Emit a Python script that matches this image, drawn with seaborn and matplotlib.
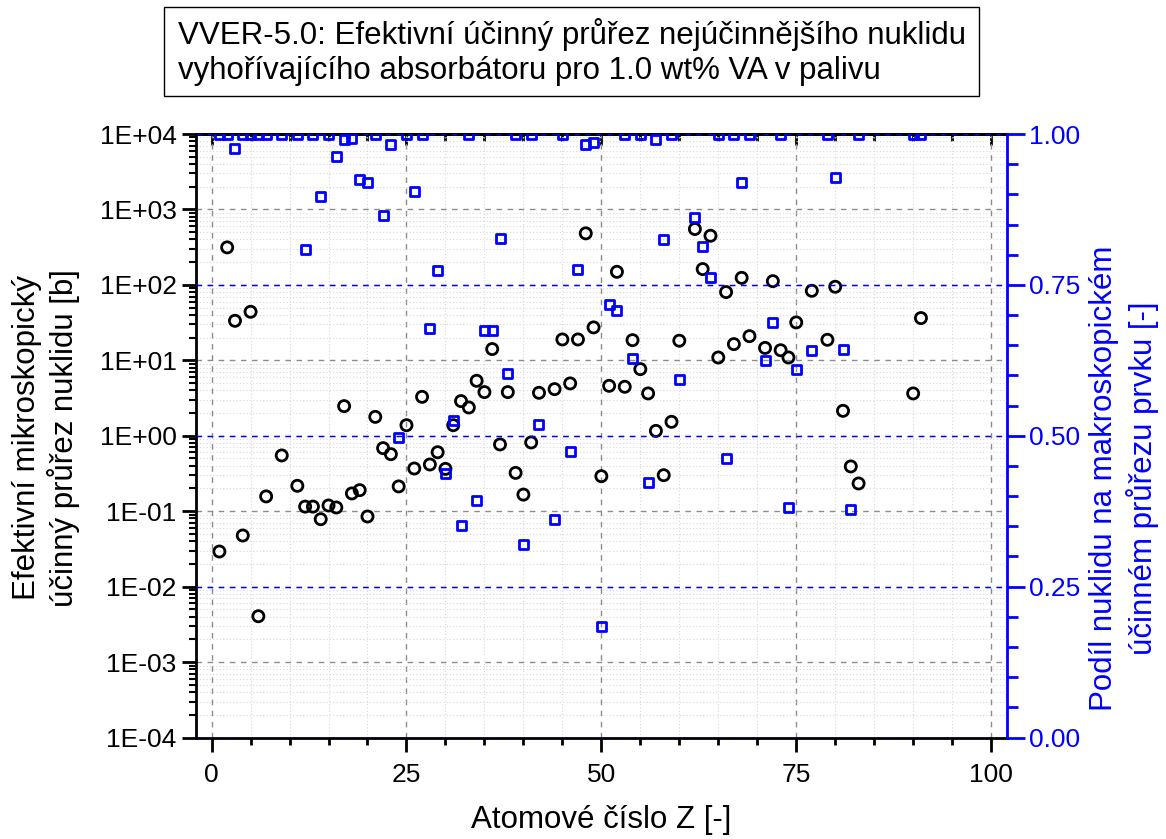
import matplotlib
matplotlib.use("Agg")
import matplotlib.pyplot as plt
from matplotlib.patches import Rectangle
from matplotlib.ticker import (LogLocator, MultipleLocator, FuncFormatter,
                               NullFormatter, FormatStrFormatter)
import pandas as pd
import seaborn as sns

# Atomic numbers of the burnable-absorber candidates
Z = [1, 2, 3, 4, 5, 6, 7, 9, 11, 12, 13, 14, 15, 16, 17, 18, 19, 20, 21, 22,
     23, 24, 25, 26, 27, 28, 29, 30, 31, 32, 33, 34, 35, 36, 37, 38, 39, 40, 41, 42,
     44, 45, 46, 47, 48, 49, 50, 51, 52, 53, 54, 55, 56, 57, 58, 59, 60, 62, 63, 64,
     65, 66, 67, 68, 69, 71, 72, 73, 74, 75, 77, 79, 80, 81, 82, 83, 90, 91]

# Effective microscopic cross section of the most effective nuclide [b]
sigma = [0.0292, 314, 33.4, 0.0476, 44, 0.00405, 0.157, 0.548, 0.217, 0.115,
         0.115, 0.0783, 0.119, 0.112, 2.47, 0.172, 0.190, 0.0851, 1.78, 0.685,
         0.570, 0.213, 1.38, 0.368, 3.28, 0.416, 0.605, 0.364, 1.38, 2.88,
         2.37, 5.35, 3.79, 14.1, 0.767, 3.79, 0.322, 0.166, 0.815, 3.71,
         4.15, 18.9, 4.94, 18.9, 482, 27.3, 0.291, 4.59, 149, 4.46,
         18.5, 7.64, 3.64, 1.16, 0.300, 1.53, 18.2, 550, 162, 448,
         10.9, 80.3, 16.4, 124, 20.9, 14.6, 112, 13.6, 10.9, 31.8,
         83.5, 18.7, 94.4, 2.14, 0.392, 0.233, 3.64, 36.3]

# Share of that nuclide in the element's macroscopic cross section [-]
frac = [1.0, 1.0, 0.976, 1.0, 1.0, 1.0, 1.0, 1.0, 1.0, 0.809,
        1.0, 0.896, 1.0, 0.962, 0.991, 0.992, 0.925, 0.919, 1.0, 0.865,
        0.983, 0.497, 1.0, 0.904, 1.0, 0.677, 0.774, 0.437, 0.526, 0.352,
        1.0, 0.393, 0.674, 0.674, 0.827, 0.603, 1.0, 0.320, 1.0, 0.518,
        0.361, 1.0, 0.474, 0.775, 0.983, 0.986, 0.184, 0.718, 0.707, 1.0,
        0.628, 1.0, 0.423, 0.991, 0.826, 1.0, 0.593, 0.861, 0.814, 0.762,
        1.0, 0.463, 1.0, 0.920, 1.0, 0.624, 0.688, 1.0, 0.381, 0.610,
        0.642, 1.0, 0.928, 0.643, 0.378, 1.0, 1.0, 1.0]

left_ticks = [1e-4, 1e-3, 1e-2, 1e-1, 1e0, 1e1, 1e2, 1e3, 1e4]
right_ticks = [0.0, 0.25, 0.5, 0.75, 1.0]
x_ticks = [0, 25, 50, 75, 100]

title_lines = ["VVER-5.0: Efektivní účinný průřez nejúčinnějšího nuklidu",
               "vyhořívajícího absorbátoru pro 1.0 wt% VA v palivu"]
xlabel = "Atomové číslo Z [-]"
ylabel_left = "Efektivní mikroskopický\núčinný průřez nuklidu [b]"
ylabel_right = "Podíl nuklidu na makroskopickém\núčinném průřezu prvku [-]"

BLUE = "#0000FF"

sns.set_style("ticks")
plt.rcParams["font.family"] = ["Liberation Sans", "DejaVu Sans"]
plt.rcParams.update({"text.color": "black", "axes.labelcolor": "black",
                     "xtick.color": "black", "ytick.color": "black"})

df = pd.DataFrame({"Z": Z, "sigma": sigma, "frac": frac})

W, H = 1166, 839
fig = plt.figure(figsize=(W / 100, H / 100), dpi=100)
x0, x1, y0, y1 = 196, 1006.7, 134, 737.5
ax = fig.add_axes([x0 / W, 1 - y1 / H, (x1 - x0) / W, (y1 - y0) / H])
ax2 = ax.twinx()

# ---- left (log) axis -------------------------------------------------
ax.set_yscale("log")
ax.set_ylim(1e-4, 1e4)
ax.set_xlim(-2, 102)
ax.set_yticks(left_ticks)
ax.yaxis.set_major_formatter(FuncFormatter(lambda v, p: f"{v:.0E}"))
ax.yaxis.set_minor_locator(LogLocator(base=10, subs=range(2, 10), numticks=100))
ax.yaxis.set_minor_formatter(NullFormatter())
ax.set_xticks(x_ticks)
ax.xaxis.set_minor_locator(MultipleLocator(5))

ax.grid(which="major", axis="both", color="#8c8c8c", linestyle=(0, (4, 4)), linewidth=1.0)
ax.grid(which="minor", axis="both", color="#d8d8d8", linestyle=(0, (1, 2)), linewidth=0.8)
ax.set_axisbelow(True)

ax.tick_params(axis="x", which="major", direction="out", length=10, width=2,
               labelsize=19, pad=8, colors="black", top=False)
ax.tick_params(axis="x", which="minor", direction="out", length=5, width=2,
               colors="black", top=False)
ax.tick_params(axis="y", which="major", direction="out", length=10, width=2,
               labelsize=19, pad=4, colors="black", right=False)
ax.tick_params(axis="y", which="minor", direction="out", length=5, width=1.5,
               colors="black", right=False)

for side in ("left", "bottom", "top"):
    ax.spines[side].set_linewidth(2)
    ax.spines[side].set_color("black")
ax.spines["right"].set_visible(False)

# inward ticks along the top edge
top = ax.secondary_xaxis("top")
top.set_xticks(x_ticks)
top.xaxis.set_minor_locator(MultipleLocator(5))
top.tick_params(which="major", direction="in", length=8, width=2, labeltop=False,
                colors="black")
top.tick_params(which="minor", direction="in", length=5, width=2, colors="black")
top.spines["top"].set_linewidth(2)
top.spines["top"].set_color("black")

# ---- right (linear) axis ---------------------------------------------
ax2.set_ylim(0, 1)
ax2.set_yticks(right_ticks)
ax2.yaxis.set_major_formatter(FormatStrFormatter("%.2f"))
ax2.yaxis.set_minor_locator(MultipleLocator(0.05))
ax2.grid(which="major", axis="y", color=BLUE, linestyle=(0, (4, 4)), linewidth=1.0)
ax2.tick_params(axis="y", which="major", direction="out", length=13, width=2,
                labelsize=19, pad=3, colors=BLUE, left=False)
ax2.tick_params(axis="y", which="minor", direction="out", length=8, width=2,
                colors=BLUE, left=False)
for side in ("left", "bottom", "top"):
    ax2.spines[side].set_visible(False)
ax2.spines["right"].set_color(BLUE)
ax2.spines["right"].set_linewidth(2)

# ---- data --------------------------------------------------------------
sns.scatterplot(data=df, x="Z", y="sigma", ax=ax, marker="o", s=64,
                facecolor="none", edgecolor="black", linewidth=2.0,
                legend=False, zorder=4)
ax.collections[-1].set_facecolor("none")
ax.collections[-1].set_edgecolor("black")

sns.scatterplot(data=df, x="Z", y="frac", ax=ax2, marker="s", s=42,
                facecolor="none", edgecolor=BLUE, linewidth=2.0,
                legend=False, zorder=4)
ax2.collections[-1].set_facecolor("none")
ax2.collections[-1].set_edgecolor(BLUE)

ax.set_xlabel("")
ax.set_ylabel("")
ax2.set_ylabel("")

# ---- labels -----------------------------------------------------------
fig.text(601 / W, 1 - 828 / H, xlabel, fontsize=22.5, ha="center", va="baseline",
         color="black")
fig.text(46 / W, 1 - 438 / H, ylabel_left, fontsize=22.5, rotation=90,
         ha="center", va="center", multialignment="center", linespacing=1.2,
         color="black")
fig.text(1124 / W, 1 - 478 / H, ylabel_right, fontsize=22.5, rotation=90,
         ha="center", va="center", multialignment="center", color=BLUE,
         linespacing=1.3)

# ---- title box --------------------------------------------------------
fig.patches.append(Rectangle((163.5 / W, 1 - 96 / H), (979.2 - 163.5) / W, (96 - 7) / H,
                             transform=fig.transFigure, facecolor="white",
                             edgecolor="black", linewidth=1.0))
fig.text(178.3 / W, 1 - 44 / H, title_lines[0], fontsize=22.5, ha="left",
         va="baseline", color="black")
fig.text(178.3 / W, 1 - 79 / H, title_lines[1], fontsize=22.5, ha="left",
         va="baseline", color="black")

fig.savefig("out.png", dpi=100, facecolor="white")
